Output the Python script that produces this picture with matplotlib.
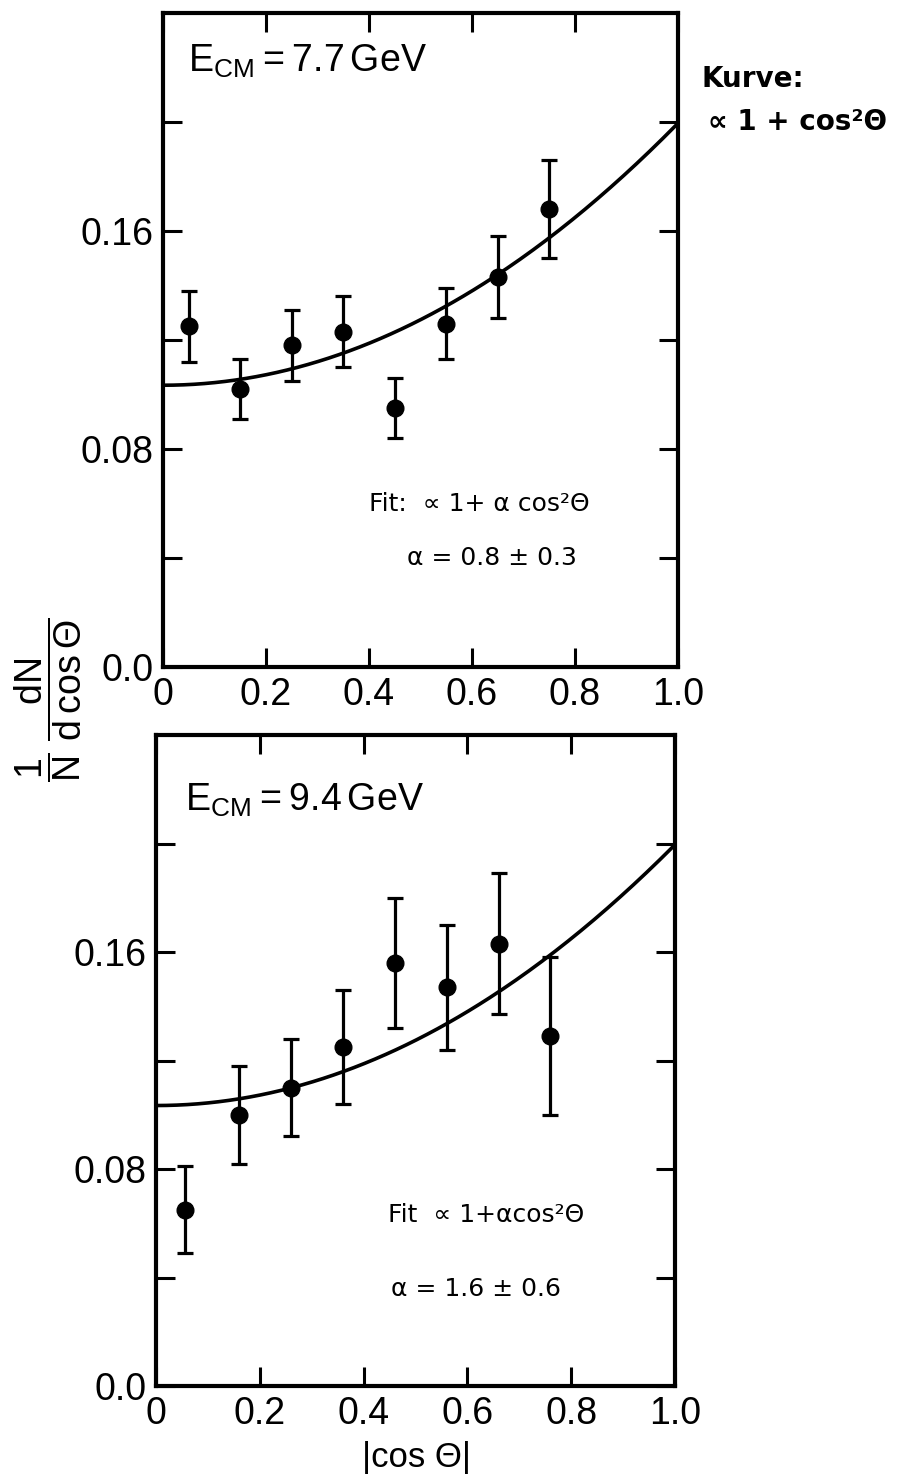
import numpy as np
import matplotlib
matplotlib.use('Agg')
import matplotlib.pyplot as plt

plt.rcParams['font.family'] = ['Liberation Sans', 'DejaVu Sans']
plt.rcParams['mathtext.default'] = 'regular'

# E_CM = 7.7 GeV
x_77 = [0.05, 0.15, 0.25, 0.35, 0.45, 0.55, 0.65, 0.75]
y_77 = [0.125, 0.102, 0.118, 0.123, 0.095, 0.126, 0.143, 0.168]
err_77 = [0.013, 0.011, 0.013, 0.013, 0.011, 0.013, 0.015, 0.018]

# E_CM = 9.4 GeV
x_94 = [0.055, 0.16, 0.26, 0.36, 0.46, 0.56, 0.66, 0.76]
y_94 = [0.065, 0.100, 0.110, 0.125, 0.156, 0.147, 0.163, 0.129]
err_94 = [0.016, 0.018, 0.018, 0.021, 0.024, 0.023, 0.026, 0.029]

# Kurve: ~ 1 + a cos^2
kurve_norm = 0.1034
kurve_alpha = 0.93

xticks = [0, 0.2, 0.4, 0.6, 0.8, 1.0]
xlabels = ['0', '0.2', '0.4', '0.6', '0.8', '1.0']
yticks = [0, 0.04, 0.08, 0.12, 0.16, 0.20]
ylabels = ['0.0', '', '0.08', '', '0.16', '']

W, H = 900, 1475
fig = plt.figure(figsize=(W/100, H/100), dpi=100)


def panel(left, right, top, bottom, x, y, err, titel, fit1, fit2, p1, p2, ptit):
    ax = fig.add_axes([left/W, 1-bottom/H, (right-left)/W, (bottom-top)/H])
    c = np.linspace(0, 1, 200)
    ax.plot(c, kurve_norm*(1+kurve_alpha*c**2), 'k', lw=2.6)
    ax.errorbar(x, y, yerr=err, fmt='o', color='k', ms=12,
                elinewidth=2.3, capsize=6, capthick=2.3)
    ax.set_xlim(0, 1)
    ax.set_ylim(0, 0.24)
    ax.set_xticks(xticks)
    ax.set_xticklabels(xlabels)
    ax.set_yticks(yticks)
    ax.set_yticklabels(ylabels)
    ax.tick_params(direction='in', length=14, width=2.2, top=True, right=True,
                   labelsize=27, pad=7)
    for s in ax.spines.values():
        s.set_linewidth(3)
    ax.text(ptit[0], ptit[1], titel, transform=ax.transAxes, fontsize=27)
    ax.text(p1[0], p1[1], fit1, transform=ax.transAxes, fontsize=18,
            family='DejaVu Sans')
    ax.text(p2[0], p2[1], fit2, transform=ax.transAxes, fontsize=18,
            family='DejaVu Sans')
    return ax


ax1 = panel(163, 678, 13, 667, x_77, y_77, err_77,
            r'$E_{CM}=7.7\,GeV$',
            'Fit:  ∝ 1+ α cos²Θ', 'α = 0.8 ± 0.3',
            (0.40, 0.239), (0.474, 0.156), (0.049, 0.91))
ax2 = panel(156, 675, 735, 1386, x_94, y_94, err_94,
            r'$E_{CM}=9.4\,GeV$',
            'Fit  ∝ 1+αcos²Θ', 'α = 1.6 ± 0.6',
            (0.447, 0.252), (0.453, 0.138), (0.056, 0.883))

fig.text(702/W, 1-87/H, 'Kurve:', fontsize=20, family='DejaVu Sans',
         weight='bold')
fig.text(708/W, 1-130/H, '∝ 1 + cos²Θ', fontsize=20, family='DejaVu Sans',
         weight='bold')

fig.text(48/W, 1-700/H, r'$\dfrac{1}{N}\;\dfrac{dN}{d\,cos\,\Theta}$',
         rotation=90, ha='center', va='center', fontsize=27)
fig.text(416/W, 1-1474/H, '|cos Θ|', ha='center', va='bottom', fontsize=25)

plt.savefig('out.png', dpi=100)
